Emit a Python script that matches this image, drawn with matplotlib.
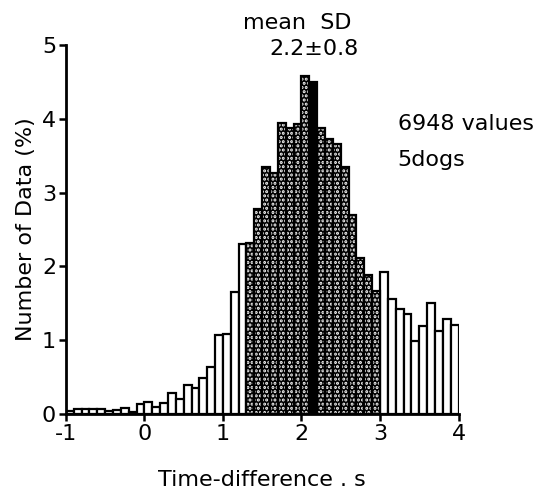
import numpy as np
import matplotlib.pyplot as plt

plt.rcParams["font.family"] = "DejaVu Sans"
plt.rcParams["axes.unicode_minus"] = False

# histogram of time differences, 0.1 s bins from -1 to 4
bin_left = np.round(np.arange(-1.0, 4.0, 0.1), 1)
pct = [
    0.04, 0.07, 0.07, 0.07, 0.07, 0.04, 0.06, 0.08, 0.03, 0.14,
    0.17, 0.09, 0.15, 0.28, 0.21, 0.39, 0.35, 0.49, 0.64, 1.07,
    1.09, 1.65, 2.30, 2.32, 2.78, 3.35, 3.27, 3.94, 3.88, 3.93,
    4.58, 4.50, 3.87, 3.73, 3.66, 3.35, 2.69, 2.12, 1.88, 1.67,
    1.93, 1.56, 1.43, 1.35, 0.99, 1.19, 1.50, 1.13, 1.29, 1.21,
]
sd_lo, sd_hi = 1.3, 3.0   # mean +- SD band (stippled)
mean_bin = 2.1            # bin drawn solid black

fig = plt.figure(figsize=(5.44, 4.93), dpi=100)
ax = fig.add_axes([0.121, 0.160, 0.722, 0.749])

pct = np.array(pct)
in_sd = (bin_left >= sd_lo - 1e-9) & (bin_left < sd_hi - 1e-9)
is_mean = np.isclose(bin_left, mean_bin)

# plain bars
ax.bar(bin_left[~in_sd], pct[~in_sd], width=0.1, align="edge",
       color="white", edgecolor="black", lw=1.6)

# stippled bars: black fill, white dot hatch, black outline
plt.rcParams["hatch.linewidth"] = 1.5
st = in_sd & ~is_mean
ax.bar(bin_left[st], pct[st], width=0.1, align="edge",
       color="black", edgecolor="black", lw=0)
ax.bar(bin_left[st], pct[st], width=0.1, align="edge",
       color="none", edgecolor="white", hatch="....", lw=0)
ax.bar(bin_left[st], pct[st], width=0.1, align="edge",
       color="none", edgecolor="black", lw=1.6)

ax.bar(bin_left[is_mean], pct[is_mean], width=0.1, align="edge",
       color="black", edgecolor="black", lw=1.6)

ax.set_xlim(-1, 4)
ax.set_ylim(0, 5)
ax.set_xticks([-1, 0, 1, 2, 3, 4])
ax.set_yticks([0, 1, 2, 3, 4, 5])
for s in ["top", "right"]:
    ax.spines[s].set_visible(False)
for s in ["left", "bottom"]:
    ax.spines[s].set_linewidth(2)
ax.tick_params(axis="both", labelsize=16, width=1.8, length=5, pad=2)

ax.set_xlabel("Time-difference . s", fontsize=16, labelpad=19)
ax.set_ylabel("Number of Data (%)", fontsize=16, labelpad=4)

fig.text(0.546, 0.953, "mean  SD", fontsize=16, ha="center", va="center")
fig.text(0.578, 0.900, "2.2\u00b10.8", fontsize=16, ha="center", va="center")
fig.text(0.731, 0.748, "6948 values", fontsize=16, ha="left", va="center")
fig.text(0.731, 0.676, "5dogs", fontsize=16, ha="left", va="center")

fig.savefig("out.png", dpi=100)
